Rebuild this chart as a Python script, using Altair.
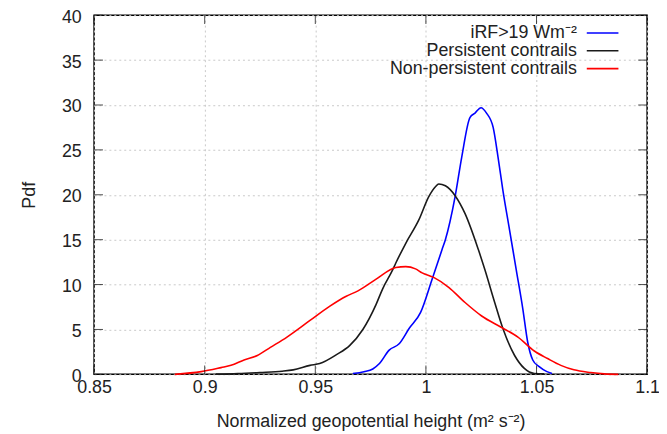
import altair as alt
import pandas as pd

# ---- data ----
irf_x = [0.967, 0.972, 0.976, 0.979, 0.9834, 0.9879, 0.9924, 0.9976, 1.0028, 1.0073,
         1.0088, 1.0132, 1.0162, 1.0199, 1.0222, 1.0249, 1.0274, 1.0304, 1.0326, 1.0348,
         1.0378, 1.0408, 1.0438, 1.046, 1.0483, 1.0512, 1.0547, 1.057]
irf_y = [0.1, 0.3, 0.6, 1.2, 2.7, 3.4, 5.1, 6.9, 10.6, 13.9,
         15.0, 19.8, 24.2, 28.6, 29.1, 29.7, 29.1, 27.5, 24.2, 20.5,
         16.1, 11.7, 7.3, 3.6, 1.6, 0.85, 0.3, 0.1]

pers_x = [0.905, 0.915, 0.925, 0.935, 0.940, 0.9476, 0.952, 0.9596, 0.9655, 0.9715,
          0.9775, 0.9804, 0.9849, 0.9864, 0.9909, 0.9968, 1.0013, 1.0043, 1.0058, 1.0088,
          1.0132, 1.0177, 1.0237, 1.0266, 1.0311, 1.0348, 1.0401, 1.0445, 1.049, 1.0535]
pers_y = [0.02, 0.08, 0.2, 0.35, 0.5, 1.0, 1.2, 2.2, 3.2, 5.0,
          7.8, 9.5, 11.6, 12.4, 14.6, 17.2, 19.8, 20.9, 21.2, 21.0,
          19.9, 17.9, 13.9, 11.7, 8.0, 5.1, 2.1, 0.66, 0.1, 0.05]

nonp_x = [0.8865, 0.8984, 0.9074, 0.9119, 0.9178, 0.9238, 0.9297, 0.9372, 0.9476, 0.9566,
          0.964, 0.9693, 0.9775, 0.9864, 0.9909, 0.9953, 0.9983, 1.0035, 1.0103, 1.0177,
          1.0252, 1.034, 1.0416, 1.049, 1.055, 1.061, 1.0669, 1.0745, 1.0806, 1.087]
nonp_y = [0.0, 0.3, 0.75, 1.0, 1.6, 2.1, 3.0, 4.15, 6.0, 7.6,
          8.7, 9.3, 10.6, 11.9, 12.0, 11.75, 11.3, 10.8, 9.7, 8.0,
          6.5, 5.25, 4.15, 2.6, 1.76, 1.0, 0.5, 0.2, 0.05, 0.0]

series_names = ["iRF>19 Wm⁻²", "Persistent contrails", "Non-persistent contrails"]
series_colors = ["#0000ff", "#1a1a1a", "#ff0000"]

x_ticks = [0.85, 0.9, 0.95, 1.0, 1.05, 1.1]
y_ticks = [0, 5, 10, 15, 20, 25, 30, 35, 40]

# ---- build table ----
rows = []
for name, xs, ys in zip(series_names, [irf_x, pers_x, nonp_x], [irf_y, pers_y, nonp_y]):
    for i, (a, b) in enumerate(zip(xs, ys)):
        rows.append({"series": name, "x": a, "y": b, "order": i})
df = pd.DataFrame(rows)

W, H = 559, 363
FONT = "Liberation Sans"
FS = 18

xscale = alt.Scale(domain=[0.85, 1.1], nice=False, zero=False)
yscale = alt.Scale(domain=[0, 40], nice=False)

lines = alt.Chart(df).mark_line(strokeWidth=1.6, interpolate="monotone").encode(
    x=alt.X("x:Q", scale=xscale,
            axis=alt.Axis(values=x_ticks, format="~g", title="Normalized geopotential height (m² s⁻²)",
                          grid=True, gridDash=[2, 3], gridColor="#c8c8c8", tickSize=0,
                          labelFlush=False, labelPadding=4, titlePadding=17, domain=False)),
    y=alt.Y("y:Q", scale=yscale,
            axis=alt.Axis(values=y_ticks, title="Pdf", grid=True, gridDash=[2, 3],
                          gridColor="#c8c8c8", tickSize=0, labelPadding=13, labelFlush=False,
                          labelOffset=2, titlePadding=23, domain=False)),
    color=alt.Color("series:N", scale=alt.Scale(domain=series_names, range=series_colors), legend=None),
    order="order:Q",
    detail="series:N",
)

tx = pd.DataFrame({"v": x_ticks})
ty = pd.DataFrame({"v": y_ticks})
tick_len = 9
bottom_ticks = alt.Chart(tx).mark_tick(color="black", size=tick_len, thickness=1).encode(
    x=alt.X("v:Q", scale=xscale), y=alt.value(H - tick_len / 2))
top_ticks = alt.Chart(tx).mark_tick(color="black", size=tick_len, thickness=1).encode(
    x=alt.X("v:Q", scale=xscale), y=alt.value(tick_len / 2))
left_ticks = alt.Chart(ty).mark_tick(color="black", size=tick_len, thickness=1).encode(
    y=alt.Y("v:Q", scale=yscale), x=alt.value(tick_len / 2))
right_ticks = alt.Chart(ty).mark_tick(color="black", size=tick_len, thickness=1).encode(
    y=alt.Y("v:Q", scale=yscale), x=alt.value(W - tick_len / 2))

legend_layers = []
row_y = [18, 36, 54]
for name, col, yy in zip(series_names, series_colors, row_y):
    ld = pd.DataFrame({"label": [name]})
    legend_layers.append(
        alt.Chart(ld).mark_text(align="right", baseline="middle", fontSize=FS, font=FONT, color="#222")
        .encode(text="label:N", x=alt.value(488), y=alt.value(yy)))
    legend_layers.append(
        alt.Chart(ld).mark_rule(strokeWidth=1.6, color=col)
        .encode(x=alt.value(498), x2=alt.value(530), y=alt.value(yy)))

chart = alt.layer(lines, bottom_ticks, top_ticks, left_ticks, right_ticks, *legend_layers).properties(
    width=W, height=H,
    autosize=alt.AutoSizeParams(type="none"),
    padding={"left": 87, "top": 5, "right": 12, "bottom": 57},
    background="white",
).configure_view(stroke="black", strokeWidth=1.5).configure_axis(
    labelFont=FONT, titleFont=FONT, labelFontSize=FS, titleFontSize=FS,
    labelColor="#222", titleColor="#222", titleFontWeight="normal",
)

chart.save("out.html", embed_options={"renderer": "svg", "actions": False})
